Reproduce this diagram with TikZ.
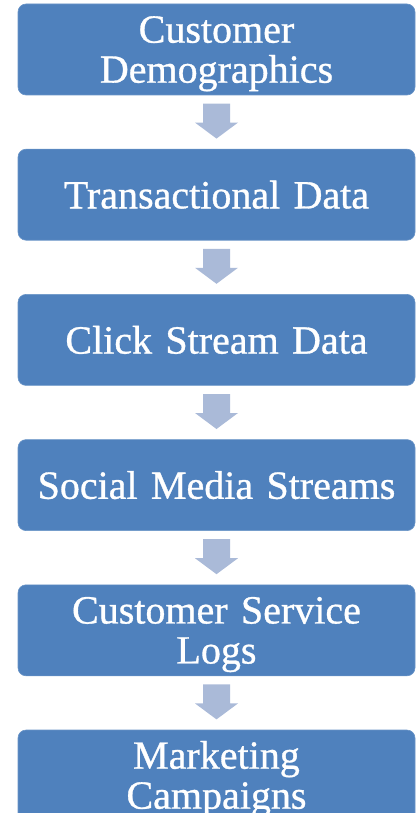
\documentclass[tikz,border=0pt]{standalone}
\usepackage{fontspec}
\setmainfont[FakeBold=0.8,WordSpace=0.75]{Liberation Serif}
\usepackage{tikz}
\usetikzlibrary{chains,calc}
\definecolor{stageblue}{RGB}{79,129,189}
\definecolor{arrowblue}{RGB}{170,186,216}

\begin{document}
\begin{tikzpicture}[x=1pt,y=1pt]
\tikzstyle{stage}=[draw=stageblue!85!white,line width=0.6pt,fill=stageblue,rounded corners=8pt,minimum width=397pt,minimum height=91pt,text width=390pt,align=center,inner sep=0pt,text=white,font=\fontsize{40}{40}\selectfont]
\tikzstyle{twolines}=[text height=35pt]
\tikzstyle{flowarrow}=[fill=arrowblue]
\clip (0,0) rectangle (417,-813);
\begin{scope}[start chain=1 going below,node distance=53.6pt]
    \node [on chain=1,stage,twolines] (demo) at (216.5,-49.5) {Customer\\Demographics};
    \node [on chain=1,stage] (trans) {Transactional Data};
    \node [on chain=1,stage] (click) {Click Stream Data};
    \node [on chain=1,stage] (social) {Social Media Streams};
    \node [on chain=1,stage,twolines] (service) {Customer Service\\Logs};
    \node [on chain=1,stage,twolines] (market) {Marketing\\Campaigns};
\end{scope}
% block arrows in the gaps
\foreach \from/\to in {demo/trans,trans/click,click/social,social/service,service/market}{
    \coordinate (gap) at ($(\from.south)!0.5!(\to.north)$);
    \fill[flowarrow] ($(gap)+(-13.5,18.5)$) -- ($(gap)+(13.5,18.5)$) -- ($(gap)+(13.5,-0.5)$)
        -- ($(gap)+(21.5,-0.5)$) -- ($(gap)+(0,-16.5)$) -- ($(gap)+(-21.5,-0.5)$)
        -- ($(gap)+(-13.5,-0.5)$) -- cycle;
}
\end{tikzpicture}
\end{document}
